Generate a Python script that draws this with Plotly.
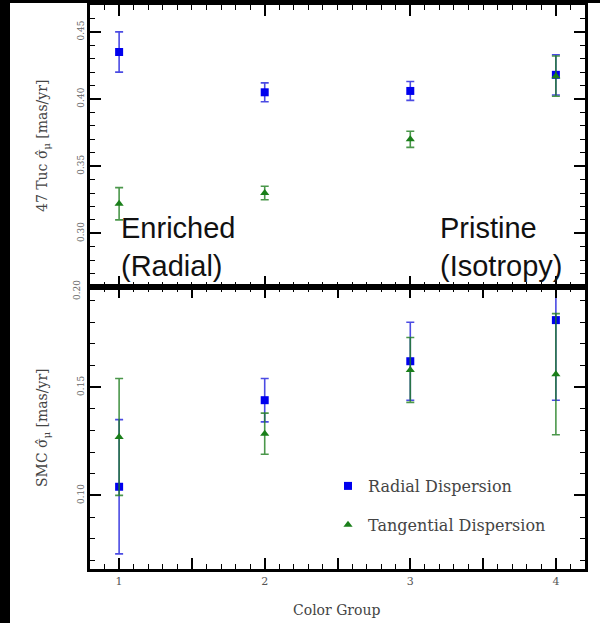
import plotly.graph_objects as go
from plotly.subplots import make_subplots

groups = [1, 2, 3, 4]

# 47 Tuc (top panel)
tuc_radial = [0.435, 0.405, 0.406, 0.418]
tuc_radial_err = [0.015, 0.007, 0.007, 0.015]
tuc_tang = [0.322, 0.330, 0.370, 0.417]
tuc_tang_err = [0.012, 0.005, 0.006, 0.015]

# SMC (bottom panel)
smc_radial = [0.104, 0.144, 0.162, 0.181]
smc_radial_err = [0.031, 0.010, 0.018, 0.037]
smc_tang = [0.127, 0.1285, 0.158, 0.156]
smc_tang_err = [0.027, 0.0095, 0.015, 0.028]

x_tickvals = [1, 1.5, 2, 2.5, 3, 3.5, 4]
x_ticktext = ["1", "", "2", "", "3", "", "4"]

BLUE = "#0000ee"
GREEN = "#1a7f1a"
BLUE_ERR = "rgba(30,30,220,0.8)"
GREEN_ERR = "rgba(30,125,30,0.8)"
SERIF = "DejaVu Serif"

fig = make_subplots(rows=2, cols=1, shared_xaxes=True, vertical_spacing=0)

def add_pair(row, rad, rad_e, tan, tan_e, legend):
    fig.add_trace(go.Scatter(
        x=groups, y=rad, mode="markers", name="Radial Dispersion",
        marker=dict(symbol="square", size=8, color=BLUE),
        error_y=dict(type="data", array=rad_e, color=BLUE_ERR, thickness=1.6, width=4),
        showlegend=legend, legendgroup="r", cliponaxis=True), row=row, col=1)
    fig.add_trace(go.Scatter(
        x=groups, y=tan, mode="markers", name="Tangential Dispersion",
        marker=dict(symbol="triangle-up", size=8, color=GREEN),
        error_y=dict(type="data", array=tan_e, color=GREEN_ERR, thickness=1.6, width=4),
        showlegend=legend, legendgroup="t", cliponaxis=True), row=row, col=1)

add_pair(1, tuc_radial, tuc_radial_err, tuc_tang, tuc_tang_err, False)
add_pair(2, smc_radial, smc_radial_err, smc_tang, smc_tang_err, True)

axis_common = dict(showline=True, linecolor="black", linewidth=2.5, mirror="ticks",
                   ticks="inside", ticklen=11, tickwidth=1.5, tickcolor="black",
                   showgrid=False, zeroline=False)

for r in (1, 2):
    fig.update_xaxes(range=[0.8, 4.2], tickmode="array", tickvals=x_tickvals, ticktext=x_ticktext,
                     minor=dict(ticks="inside", ticklen=5, tickwidth=1.2, tickcolor="black",
                                tickmode="linear", tick0=0.8, dtick=0.1),
                     tickfont=dict(family=SERIF, size=11, color="#555"),
                     **axis_common, row=r, col=1)
fig.update_xaxes(showticklabels=False, row=1, col=1)

fig.update_yaxes(range=[0.26, 0.47], tickmode="linear", tick0=0.3, dtick=0.05,
                 tickformat=".2f", tickangle=-90,
                 minor=dict(ticks="inside", ticklen=5, tickwidth=1.2, tickcolor="black", dtick=0.01),
                 tickfont=dict(family=SERIF, size=9, color="#666"),
                 **axis_common, row=1, col=1)
fig.update_yaxes(range=[0.066, 0.1963], tickmode="linear", tick0=0.1, dtick=0.05,
                 tickformat=".2f", tickangle=-90,
                 minor=dict(ticks="inside", ticklen=5, tickwidth=1.2, tickcolor="black", dtick=0.01),
                 tickfont=dict(family=SERIF, size=9, color="#666"),
                 **axis_common, row=2, col=1)

L, R, T, B = 90, 15, 5, 54
W, H = 600, 623
pw, ph = W - L - R, H - T - B

def px_x(p):
    return (p - L) / pw

def px_y(p):
    return (H - B - p) / ph

annotations = [
    dict(text="47 Tuc σ̂<sub>μ</sub> [mas/yr]", x=px_x(43), y=px_y(146), xref="paper", yref="paper",
         textangle=-90, showarrow=False, xanchor="center", yanchor="middle",
         font=dict(family=SERIF, size=14, color="#444")),
    dict(text="SMC σ̂<sub>μ</sub> [mas/yr]", x=px_x(43), y=px_y(428), xref="paper", yref="paper",
         textangle=-90, showarrow=False, xanchor="center", yanchor="middle",
         font=dict(family=SERIF, size=14, color="#444")),
    dict(text="Color Group", x=px_x(337), y=px_y(610), xref="paper", yref="paper",
         showarrow=False, xanchor="center", yanchor="middle",
         font=dict(family=SERIF, size=14, color="#444")),
    dict(text="0.20", x=px_x(77), y=px_y(290), xref="paper", yref="paper",
         textangle=-90, showarrow=False, xanchor="center", yanchor="middle",
         font=dict(family=SERIF, size=9, color="#666")),
    dict(text="Enriched<br>(Radial)", x=px_x(119), y=px_y(284), xref="paper", yref="paper",
         showarrow=False, xanchor="left", yanchor="bottom", align="left",
         font=dict(family="Liberation Sans", size=29, color="#111")),
    dict(text="Pristine<br>(Isotropy)", x=px_x(438), y=px_y(284), xref="paper", yref="paper",
         showarrow=False, xanchor="left", yanchor="bottom", align="left",
         font=dict(family="Liberation Sans", size=29, color="#111")),
]

shapes = [
    dict(type="rect", xref="paper", yref="paper", x0=px_x(0), x1=px_x(10), y0=px_y(623), y1=px_y(0),
         fillcolor="black", line=dict(width=0), layer="above"),
    dict(type="rect", xref="paper", yref="paper", x0=px_x(0), x1=px_x(600), y0=px_y(3), y1=px_y(0),
         fillcolor="black", line=dict(width=0), layer="above"),
]

fig.update_layout(
    width=W, height=H,
    margin=dict(l=L, r=R, t=T, b=B, autoexpand=False),
    paper_bgcolor="white", plot_bgcolor="white",
    annotations=annotations, shapes=shapes,
    legend=dict(x=px_x(328), y=px_y(469), xanchor="left", yanchor="top",
                bgcolor="rgba(0,0,0,0)", tracegroupgap=15,
                font=dict(family=SERIF, size=16, color="#444")),
)

fig.write_html("out.html", config={"displayModeBar": False},
               post_script="document.body.style.margin='0';document.body.style.padding='0';")
